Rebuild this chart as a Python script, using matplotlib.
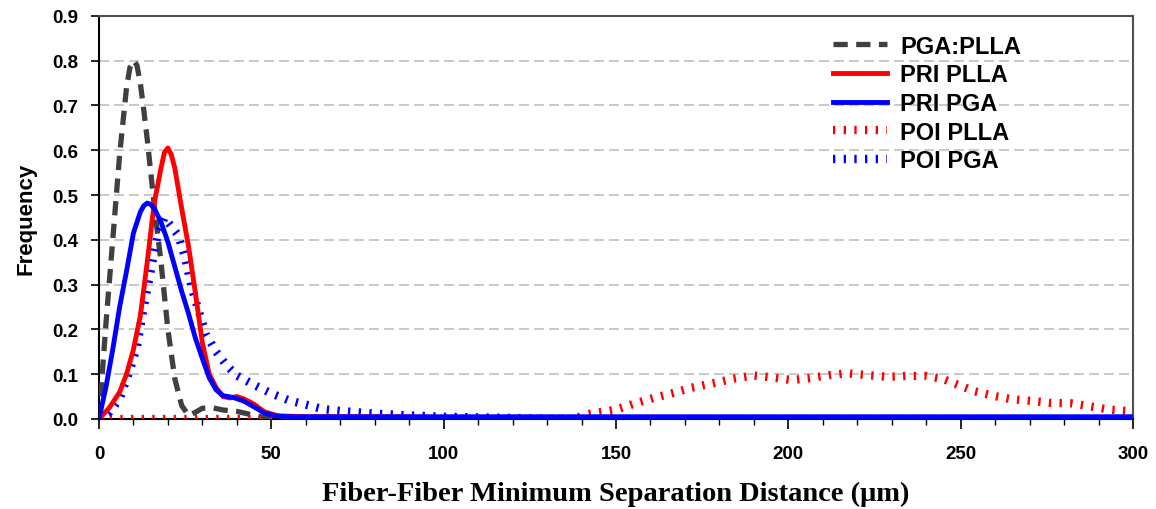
import matplotlib
matplotlib.use('Agg')
import matplotlib.pyplot as plt
from matplotlib.ticker import MultipleLocator

# values
x_pga_plla = [0, 2, 4, 6, 8, 9, 10, 11, 12, 13, 14, 16, 18, 20, 22, 24, 26, 28, 30, 33, 36, 40, 44, 48, 52, 300]
y_pga_plla = [0, 0.21, 0.40, 0.59, 0.74, 0.785, 0.80, 0.79, 0.75, 0.69, 0.625, 0.48, 0.35, 0.20, 0.09, 0.03,
              0.008, 0.015, 0.024, 0.025, 0.02, 0.017, 0.01, 0.003, 0, 0]

x_pri_plla = [0, 3, 6, 8, 10, 12, 14, 16, 18, 19, 20, 21, 22, 24, 26, 28, 30, 32, 34, 36, 38, 40, 42, 45, 48, 52,
              60, 80, 95, 100, 300]
y_pri_plla = [0, 0.025, 0.06, 0.10, 0.155, 0.23, 0.35, 0.48, 0.56, 0.595, 0.605, 0.59, 0.56, 0.47, 0.385, 0.28,
              0.17, 0.10, 0.07, 0.05, 0.047, 0.05, 0.045, 0.033, 0.016, 0.007, 0.005, 0.005, 0.004, 0, 0]

x_pri_pga = [0, 2, 4, 6, 8, 10, 12, 13, 14, 15, 16, 18, 20, 22, 24, 26, 28, 30, 32, 34, 36, 39, 42, 45, 48, 51,
             55, 300]
y_pri_pga = [0, 0.07, 0.155, 0.25, 0.33, 0.415, 0.462, 0.476, 0.482, 0.479, 0.47, 0.44, 0.395, 0.34, 0.285,
             0.235, 0.18, 0.135, 0.092, 0.065, 0.052, 0.048, 0.04, 0.027, 0.013, 0.007, 0.005, 0.005]

x_poi_plla = [0, 138, 141, 147, 150, 156, 161, 167, 172, 179, 184, 190, 195, 201, 206, 212, 217, 223, 229,
              234, 240, 245, 249, 254, 260, 265, 271, 276, 282, 287, 293, 300]
y_poi_plla = [0, 0, 0.01, 0.017, 0.021, 0.036, 0.047, 0.059, 0.07, 0.081, 0.09, 0.097, 0.093, 0.087, 0.091,
              0.098, 0.102, 0.098, 0.094, 0.096, 0.096, 0.089, 0.077, 0.062, 0.051, 0.044, 0.04, 0.036,
              0.035, 0.029, 0.021, 0.017]

x_poi_pga = [0, 3, 6, 9, 11, 13, 15, 17, 19, 21, 23, 25, 27, 29, 31, 34, 37, 40, 45, 50, 55, 60, 65, 70,
             80, 90, 100, 115, 130, 140, 300]
y_poi_pga = [0, 0.015, 0.045, 0.11, 0.16, 0.25, 0.33, 0.41, 0.45, 0.43, 0.41, 0.36, 0.29, 0.24, 0.19, 0.15,
             0.12, 0.097, 0.076, 0.057, 0.042, 0.032, 0.022, 0.018, 0.012, 0.008, 0.005, 0.003, 0.001, 0, 0]

fig = plt.figure(figsize=(11.56, 5.10), dpi=100)
ax = fig.add_axes([0.0856, 0.1765, 0.8945, 0.7905])

dot = (0, (0.28, 1.0))
ax.plot(x_pga_plla, y_pga_plla, color='#404040', lw=3.8, ls=(0, (2.7, 1.6)), label='PGA:PLLA', zorder=3)
ax.plot(x_pri_plla, y_pri_plla, color='#ff0000', lw=3.5, label='PRI PLLA', zorder=4)
ax.plot(x_pri_pga, y_pri_pga, color='#0000ff', lw=3.5, label='PRI PGA', zorder=5)
ax.plot(x_poi_plla, y_poi_plla, color='#ff0000', lw=6.0, ls=dot, dash_capstyle='butt', label='POI PLLA', zorder=3)
ax.plot(x_poi_pga, y_poi_pga, color='#0000ff', lw=6.0, ls=dot, dash_capstyle='butt', label='POI PGA', zorder=3)

ax.set_xlim(0, 300)
ax.set_ylim(0, 0.9)
ax.xaxis.set_major_locator(MultipleLocator(50))
ax.xaxis.set_minor_locator(MultipleLocator(10))
ax.yaxis.set_major_locator(MultipleLocator(0.1))
ax.yaxis.set_major_formatter(plt.FuncFormatter(lambda v, p: '%.1f' % v))

ax.grid(axis='y', color='#c0c0c0', lw=1.2, ls=(0, (6, 3)))
ax.set_axisbelow(True)

for s in ['left', 'bottom']:
    ax.spines[s].set_color('black')
    ax.spines[s].set_linewidth(1.5)
for s in ['top', 'right']:
    ax.spines[s].set_color('#505050')
    ax.spines[s].set_linewidth(1.5)

ax.tick_params(axis='x', which='major', direction='out', length=7, width=1.2, pad=12)
ax.tick_params(axis='x', which='minor', direction='out', length=4, width=1.0)
ax.tick_params(axis='y', direction='out', length=6, width=1.2, pad=9)
for lab in ax.get_xticklabels() + ax.get_yticklabels():
    lab.set_fontfamily('Liberation Sans')
    lab.set_fontweight('bold')
    lab.set_fontsize(13.5)

ax.set_ylabel('Frequency', fontfamily='Liberation Sans', fontweight='bold', fontsize=16, labelpad=11)
ax.set_xlabel('Fiber-Fiber Minimum Separation Distance (\u03bcm)', fontfamily='Liberation Serif',
              fontweight='bold', fontsize=20.5, labelpad=13)

leg = ax.legend(loc='upper left', bbox_to_anchor=(0.7206, 0.93), bbox_transform=fig.transFigure,
                frameon=False, borderpad=0, borderaxespad=0, handlelength=2.3, handletextpad=0.55,
                labelspacing=0.24, prop={'family': 'Liberation Sans', 'weight': 'bold', 'size': 17})

fig.savefig('out.png', dpi=100)
